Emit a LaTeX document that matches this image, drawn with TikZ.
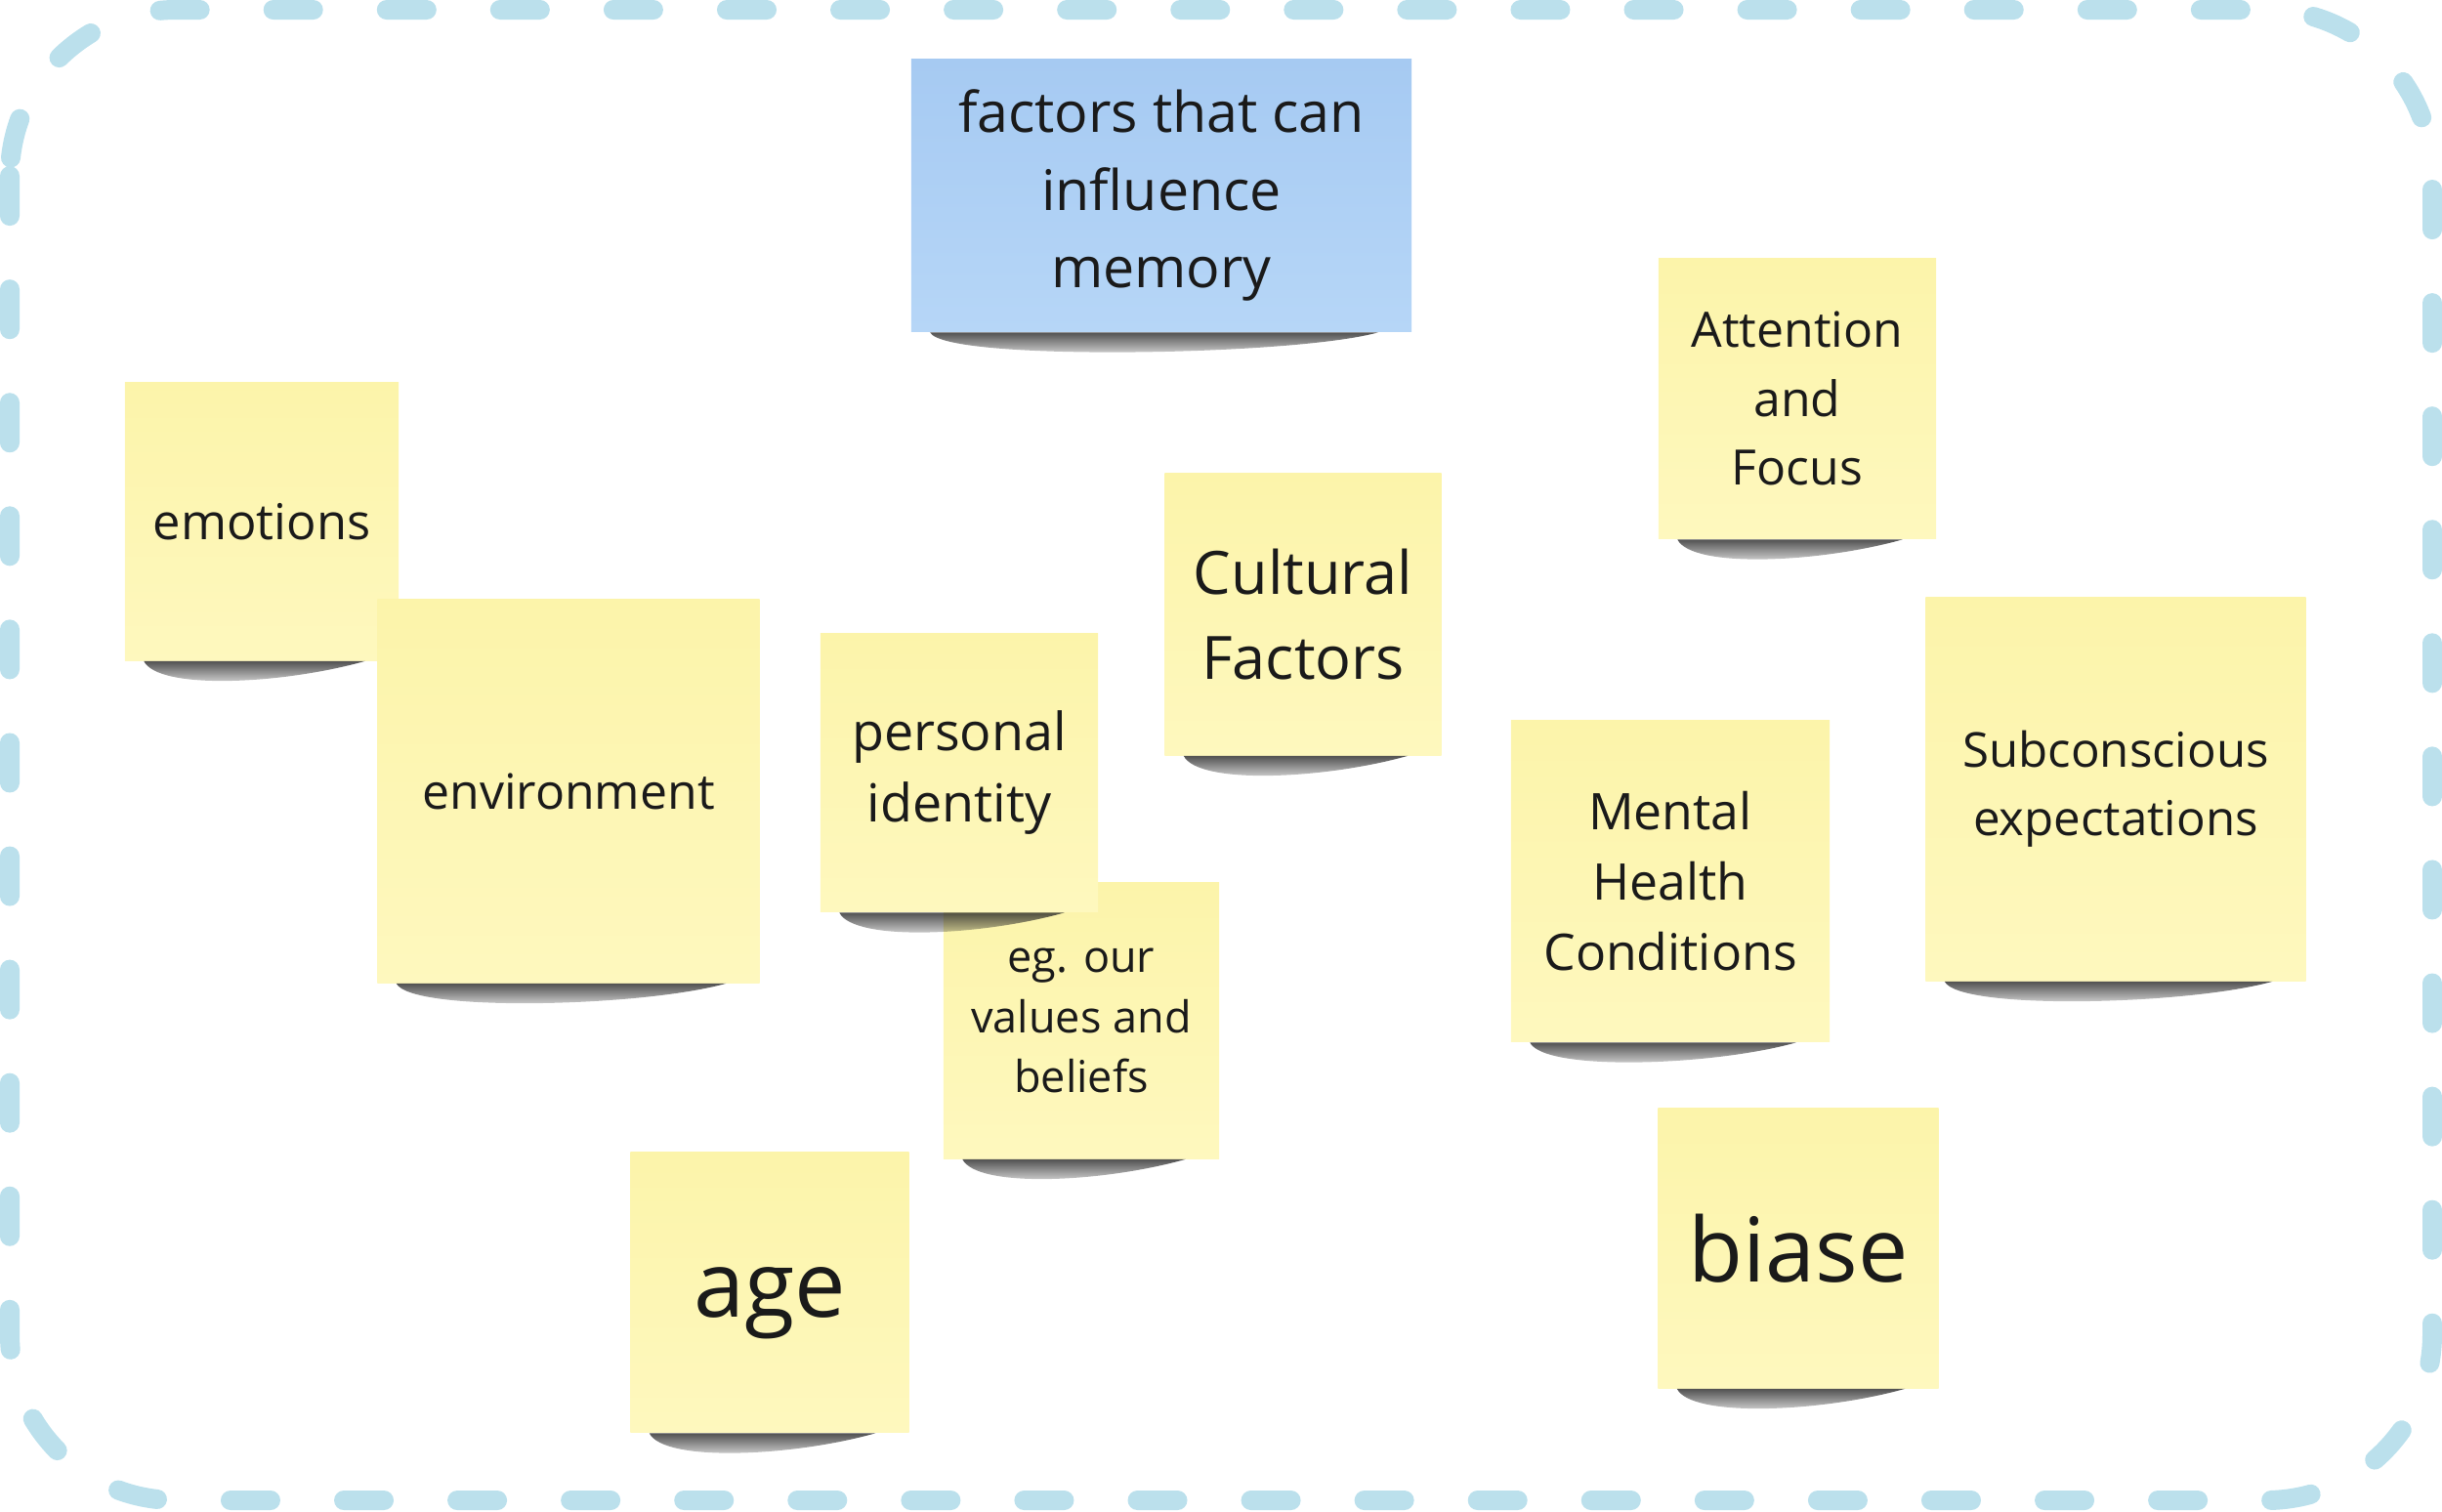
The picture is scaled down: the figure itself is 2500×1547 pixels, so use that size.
\documentclass[tikz,border=0pt]{standalone}
\usepackage{fontspec}
\setmainfont{Open Sans}
\usetikzlibrary{fadings}

\definecolor{padtop}{RGB}{252,244,170}
\definecolor{padbot}{RGB}{254,248,190}
\definecolor{topictop}{RGB}{166,202,242}
\definecolor{topicbot}{RGB}{182,214,247}
\definecolor{frameblue}{RGB}{187,224,236}
\definecolor{ink}{RGB}{26,26,26}

\tikzset{
  pad/.style={inner sep=0pt, align=center, text=ink,
    top color=padtop, bottom color=padbot},
  topic/.style={pad, top color=topictop, bottom color=topicbot},
  frame/.style={draw=frameblue, line width=0.2cm, line cap=round,
    dash pattern=on 0.41cm off 0.75cm, rounded corners=1.7cm}
}

% shadow under the lower edge of a note
\newcommand{\padshadow}[1]{%
  \fill[black!85, opacity=0.8, path fading=south]
    ([xshift=0.2cm]#1.south west)
    .. controls ([xshift=0.35cm,yshift=-0.3cm]#1.south west)
    and ([xshift=-1.2cm,yshift=-0.24cm]#1.south east) ..
    ([xshift=-0.35cm]#1.south east) -- cycle;}

\begin{document}
\begin{tikzpicture}[x=0.01cm, y=-0.01cm]
    \useasboundingbox (0,0) rectangle (2500,1547);

    % Frame
    \draw[frame] (10,10) rectangle (2490,1536);

    % Left group
    \node[pad, minimum width=2.80cm, minimum height=2.84cm,
      font=\fontsize{14.4}{20}\selectfont] (emotions) at (268,534) {emotions};
    \padshadow{emotions}
    \node[pad, minimum width=3.91cm, minimum height=3.92cm,
      font=\fontsize{14.2}{20}\selectfont] (environment) at (582,810) {environment};
    \padshadow{environment}
    \node[pad, minimum width=2.82cm, minimum height=2.82cm,
      font=\fontsize{12.8}{17.4}\selectfont] (values) at (1107,1045) {eg. our\\values and\\beliefs};
    \padshadow{values}
    \node[pad, minimum width=2.84cm, minimum height=2.85cm,
      font=\fontsize{15.3}{20.8}\selectfont] (identity) at (982,791) {personal\\identity};
    \padshadow{identity}
    \node[pad, minimum width=2.85cm, minimum height=2.87cm, text depth=0pt,
      font=\fontsize{26.6}{30}\selectfont] (age) at (788,1323) {age};
    \padshadow{age}

    % Topic
    \node[topic, minimum width=5.12cm, minimum height=2.79cm,
      font=\fontsize{16.3}{22.7}\selectfont] (memory) at (1189,200) {factors that can\\influence\\memory};
    \padshadow{memory}

    % Right group
    \node[pad, minimum width=2.83cm, minimum height=2.88cm,
      font=\fontsize{17.4}{25}\selectfont] (culture) at (1334,629) {Cultural\\Factors};
    \padshadow{culture}
    \node[pad, minimum width=2.84cm, minimum height=2.87cm,
      font=\fontsize{14.2}{20}\selectfont] (attention) at (1840,408) {Attention\\and\\Focus};
    \padshadow{attention}
    \node[pad, minimum width=3.26cm, minimum height=3.29cm,
      font=\fontsize{14.7}{20.5}\selectfont] (mental) at (1710,902) {Mental\\Health\\Conditions};
    \padshadow{mental}
    \node[pad, minimum width=3.89cm, minimum height=3.92cm,
      font=\fontsize{14}{19.9}\selectfont] (expect) at (2166,808) {Subconscious\\expectations};
    \padshadow{expect}
    \node[pad, minimum width=2.87cm, minimum height=2.86cm,
      font=\fontsize{26}{30}\selectfont] (bias) at (1841,1278) {biase};
    \padshadow{bias}
\end{tikzpicture}
\end{document}
